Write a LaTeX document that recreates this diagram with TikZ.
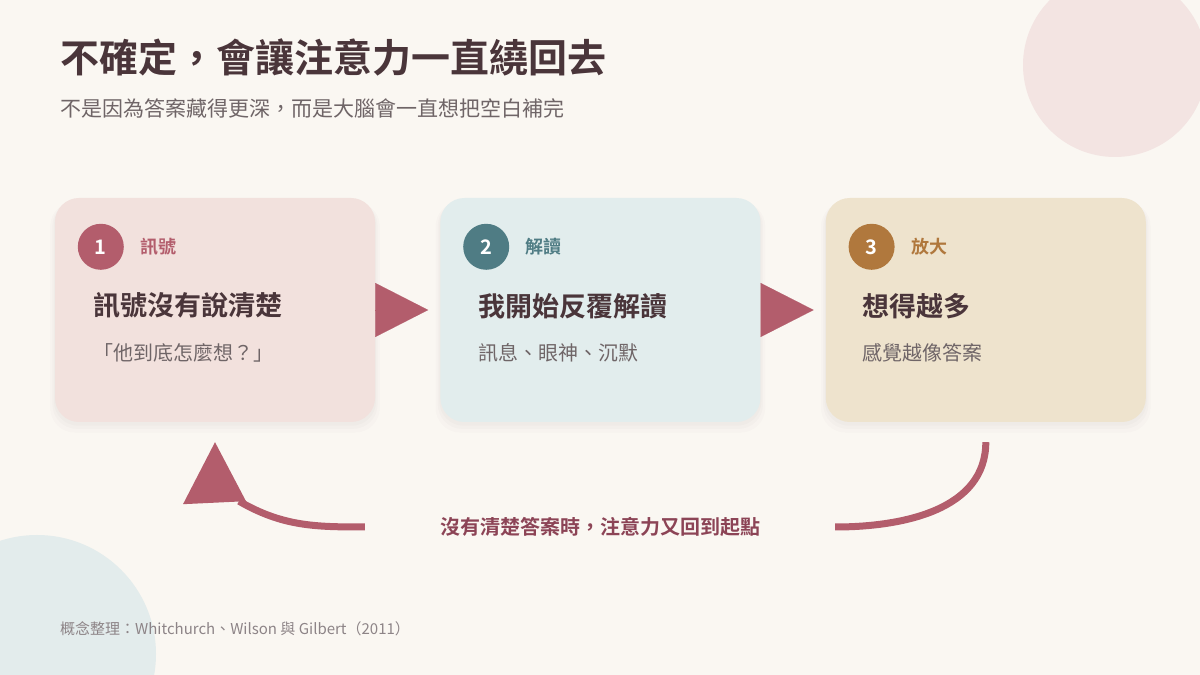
\documentclass[tikz,border=0pt]{standalone}
\usepackage{xcolor}
\usepackage{fontspec}
\setmainfont{Noto Sans CJK TC}[BoldFont={Noto Sans CJK TC Bold}]
\usepackage{tikz}
\usetikzlibrary{arrows.meta, positioning, shadows}
\definecolor{paper}{HTML}{FAF7F2}
\definecolor{ink}{HTML}{4A353A}
\definecolor{muted}{HTML}{6F6567}
\definecolor{footgray}{HTML}{8D8487}
\definecolor{rose}{HTML}{B35D6C}
\definecolor{roseink}{HTML}{8C4456}
\definecolor{rosecard}{HTML}{F2E1DD}
\definecolor{seablue}{HTML}{4F7C84}
\definecolor{seacard}{HTML}{E2EDED}
\definecolor{ochre}{HTML}{B0783D}
\definecolor{ochrecard}{HTML}{EEE3CD}
\definecolor{blushdot}{HTML}{F3E4E2}
\definecolor{mistdot}{HTML}{E3ECEC}

\begin{document}
\begin{tikzpicture}[
    x=1pt, y=1pt,
    card/.style     = {rectangle, rounded corners=24pt, minimum width=320pt,
                       minimum height=224pt, inner sep=0pt,
                       general shadow={shadow yshift=-7pt, shadow scale=1.03, opacity=.015, fill=ink},
                       general shadow={shadow yshift=-5pt, shadow scale=1.016, opacity=.02, fill=ink},
                       general shadow={shadow yshift=-3pt, shadow scale=1.006, opacity=.02, fill=ink}},
    badge/.style    = {circle, minimum size=46pt, inner sep=0pt, text=white,
                       font=\fontsize{20}{24}\selectfont\bfseries},
    tag/.style      = {anchor=west, inner sep=0pt, font=\fontsize{18}{22}\selectfont\bfseries},
    head/.style     = {anchor=west, inner sep=0pt, text=ink,
                       font=\fontsize{27}{32}\selectfont\bfseries},
    note/.style     = {anchor=west, inner sep=0pt, text=muted,
                       font=\fontsize{20}{24}\selectfont},
    flow/.style     = {-{Triangle[length=53pt, width=54pt]}, line width=0.1pt, color=rose},
    loopline/.style = {line width=7pt, color=rose}
  ]

  % ── Canvas ─────────────────────────────────────────────────────────────────
  \useasboundingbox (0,0) rectangle (1200,675);
  \clip (0,0) rectangle (1200,675);
  \fill[paper] (0,0) rectangle (1200,675);
  \fill[blushdot] (1115,610) circle (92);
  \fill[mistdot] (37,21) circle (119);

  % ── Title ──────────────────────────────────────────────────────────────────
  \node[anchor=west, inner sep=0pt, text=ink, font=\fontsize{39}{45}\selectfont\bfseries]
    (title) at (60,618) {不確定，會讓注意力一直繞回去};
  \node[anchor=west, inner sep=0pt, text=muted, font=\fontsize{21}{25}\selectfont]
    (subtitle) at (60,567) {不是因為答案藏得更深，而是大腦會一直想把空白補完};

  % ── Cards ──────────────────────────────────────────────────────────────────
  \node[card, fill=rosecard]  (signal)  at (215,365) {};
  \node[card, fill=seacard, right=65pt of signal]   (decode)  {};
  \node[card, fill=ochrecard, right=65pt of decode] (amplify) {};

  % ── Card 1 ─────────────────────────────────────────────────────────────────
  \node[badge, fill=rose] (signalnum) at ([xshift=46pt, yshift=-49pt]signal.north west) {1};
  \node[tag, text=rose, right=16pt of signalnum] (signaltag) {訊號};
  \node[head] (signalhead) at ([xshift=38pt, yshift=-108pt]signal.north west) {訊號沒有說清楚};
  \node[note] (signalnote) at ([xshift=38pt, yshift=-155pt]signal.north west) {「他到底怎麼想？」};

  % ── Card 2 ─────────────────────────────────────────────────────────────────
  \node[badge, fill=seablue] (decodenum) at ([xshift=46pt, yshift=-49pt]decode.north west) {2};
  \node[tag, text=seablue, right=16pt of decodenum] (decodetag) {解讀};
  \node[head] (decodehead) at ([xshift=38pt, yshift=-108pt]decode.north west) {我開始反覆解讀};
  \node[note] (decodenote) at ([xshift=38pt, yshift=-155pt]decode.north west) {訊息、眼神、沉默};

  % ── Card 3 ─────────────────────────────────────────────────────────────────
  \node[badge, fill=ochre] (amplifynum) at ([xshift=46pt, yshift=-49pt]amplify.north west) {3};
  \node[tag, text=ochre, right=16pt of amplifynum] (amplifytag) {放大};
  \node[head] (amplifyhead) at ([xshift=37pt, yshift=-108pt]amplify.north west) {想得越多};
  \node[note] (amplifynote) at ([xshift=37pt, yshift=-155pt]amplify.north west) {感覺越像答案};

  % ── Flow arrows ────────────────────────────────────────────────────────────
  \draw[flow] (signal.east) -- ([xshift=-12pt]decode.west);
  \draw[flow] (decode.east) -- ([xshift=-12pt]amplify.west);

  % ── Loop back ──────────────────────────────────────────────────────────────
  \node[inner sep=0pt, text=roseink, font=\fontsize{20}{24}\selectfont\bfseries]
    (loopnote) at (600,148) {沒有清楚答案時，注意力又回到起點};
  \coordinate (tipbase) at ([yshift=-82pt]signal.south);
  \draw[loopline] ([yshift=-20pt]amplify.south) to[out=-90, in=0] ([xshift=75pt]loopnote.east);
  \draw[loopline] ([xshift=-75pt]loopnote.west) to[out=180, in=-30] ([xshift=24pt, yshift=3pt]tipbase);
  \fill[rose] ([xshift=-32pt]tipbase) -- ([yshift=-20pt]signal.south)
    -- ([xshift=31pt, yshift=3pt]tipbase) -- cycle;

  % ── Source ─────────────────────────────────────────────────────────────────
  \node[anchor=west, inner sep=0pt, text=footgray, font=\fontsize{15}{18}\selectfont]
    (source) at (60,46) {概念整理：Whitchurch、Wilson 與 Gilbert（2011）};

\end{tikzpicture}
\end{document}
